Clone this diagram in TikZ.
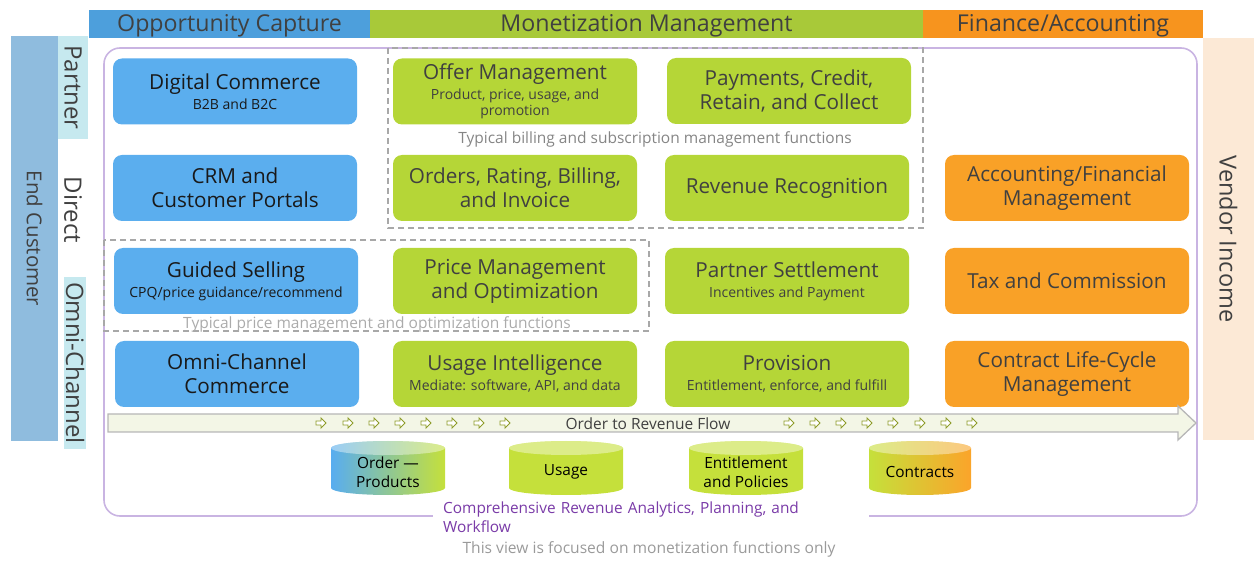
\documentclass[tikz,border=0pt]{standalone}
\usepackage{fontspec}
\setmainfont{Open Sans}
\usepackage{tikz}
\usetikzlibrary{positioning, calc}

\definecolor{capBlue}{HTML}{4D9FDC}
\definecolor{monGreen}{HTML}{A8C939}
\definecolor{finOrange}{HTML}{F7941E}
\definecolor{boxBlue}{HTML}{5BAEEE}
\definecolor{boxGreen}{HTML}{B5D637}
\definecolor{boxOrange}{HTML}{F9A127}
\definecolor{custBlue}{HTML}{8FBCDE}
\definecolor{chanCyan}{HTML}{C6E9EF}
\definecolor{vendPeach}{HTML}{FCE9D6}
\definecolor{frameLilac}{HTML}{C9B4E2}
\definecolor{dashGray}{HTML}{A8A8A8}
\definecolor{textGray}{HTML}{404040}
\definecolor{noteGray}{HTML}{858585}
\definecolor{noteLight}{HTML}{ABABAB}
\definecolor{analyticsPurple}{HTML}{7A3BA8}
\definecolor{flowFill}{HTML}{F3F6E6}
\definecolor{flowEdge}{HTML}{B7B7B7}
\definecolor{flowOlive}{HTML}{8E9C2A}
\definecolor{dbGreen}{HTML}{C5E03B}
\definecolor{dbBlue}{HTML}{58ADF0}
\definecolor{dbOrange}{HTML}{FBA42A}

\newcommand{\hdfont}{\fontsize{23.2}{26}\selectfont}
\newcommand{\ttlfont}{\fontsize{20.7}{24}\selectfont}
\newcommand{\sbfont}{\fontsize{14}{16}\selectfont}
\newcommand{\ntfont}{\fontsize{15.5}{18}\selectfont}
\newcommand{\sdfont}{\fontsize{24}{28}\selectfont}

\tikzset{
  fnbox/.style={rounded corners=9pt, minimum width=244pt, minimum height=66pt,
    align=center, inner sep=2pt, font=\ttlfont},
  bluebox/.style={fnbox, fill=boxBlue, text=black!90},
  greenbox/.style={fnbox, fill=boxGreen, text=textGray},
  orangebox/.style={fnbox, fill=boxOrange, text=textGray},
  header/.style={minimum height=28pt, inner sep=0pt, text height=18pt, text depth=3pt,
    text=textGray, font=\hdfont},
  sidebar/.style={rotate=-90, inner sep=0pt, text=textGray, font=\sdfont},
  dashbox/.style={draw=dashGray, line width=1.5pt, dash pattern=on 6pt off 4pt},
  notetext/.style={inner sep=1pt, font=\ntfont},
  dbtext/.style={align=center, inner sep=0pt, text=black, font=\fontsize{15.4}{19}\selectfont}
}

\begin{document}
\begin{tikzpicture}[x=1pt, y=-1pt]
  \useasboundingbox (0,0) rectangle (1254,561);

  % column headers
  \node[header, fill=capBlue, minimum width=281pt] (hcapture) at (229.5,24) {Opportunity Capture};
  \node[header, fill=monGreen, minimum width=553pt] (hmonetize) at (646.5,24) {Monetization Management};
  \node[header, fill=finOrange, minimum width=280pt] (hfinance) at (1063,24) {Finance/Accounting};

  % customer side and vendor side
  \node[sidebar, fill=custBlue, minimum width=405pt, minimum height=47pt, font=\fontsize{20.5}{24}\selectfont]
    (customer) at (34.5,238.5) {End Customer};
  \node[sidebar, fill=chanCyan, minimum width=103pt, minimum height=30pt] (partner) at (73,87.5) {Partner};
  \node[sidebar] (direct) at (73,210) {Direct};
  \node[sidebar, fill=chanCyan, minimum width=172pt, minimum height=22pt] (omni) at (75,363) {Omni-Channel};
  \node[sidebar, fill=vendPeach, minimum width=402pt, minimum height=51pt, font=\fontsize{23.5}{27}\selectfont]
    (vendor) at (1228.5,239) {Vendor Income};

  % outer frame
  \draw[frameLilac, line width=1.6pt, rounded corners=16pt] (104,48) rectangle (1197,516);

  % groups of typical functions
  \draw[dashbox] (388,48) rectangle (923,228);
  \draw[dashbox] (104,240) rectangle (649,331);
  \node[notetext, text=noteGray] (billingnote) at (655,139) {Typical billing and subscription management functions};
  \node[notetext, text=noteLight] (pricenote) at (377,324) {Typical price management and optimization functions};

  % row 1
  \node[bluebox] (digital) at (235,91.5) {Digital Commerce\\[-4pt]\sbfont B2B and B2C};
  \node[greenbox] (offer) at (515,91.5) {Offer Management\\[-4pt]\sbfont Product, price, usage, and\\[-8pt]\sbfont promotion};
  \node[greenbox] (payments) at (789,91) {Payments, Credit,\\Retain, and Collect};
  % row 2
  \node[bluebox] (crm) at (235,188) {CRM and\\Customer Portals};
  \node[greenbox] (orders) at (515,188) {Orders, Rating, Billing,\\and Invoice};
  \node[greenbox] (revrec) at (787,188) {Revenue Recognition};
  \node[orangebox] (accounting) at (1067,188) {Accounting/Financial\\Management};
  % row 3
  \node[bluebox] (guided) at (236,281) {Guided Selling\\[-4pt]\sbfont CPQ/price guidance/recommend};
  \node[greenbox] (pricemgmt) at (515,281) {Price Management\\and Optimization};
  \node[greenbox] (settlement) at (787,281) {Partner Settlement\\[-4pt]\sbfont Incentives and Payment};
  \node[orangebox] (tax) at (1067,281) {Tax and Commission};
  % row 4
  \node[bluebox] (omnicommerce) at (237,374) {Omni-Channel\\Commerce};
  \node[greenbox] (usage) at (515,374) {Usage Intelligence\\[-4pt]\sbfont Mediate: software, API, and data};
  \node[greenbox] (provision) at (787,374) {Provision\\[-4pt]\sbfont Entitlement, enforce, and fulfill};
  \node[orangebox] (contract) at (1067,374) {Contract Life-Cycle\\Management};

  % order to revenue flow
  \draw[draw=flowEdge, fill=flowFill, line width=1.3pt]
    (108,414) -- (1178,414) -- (1178,406) -- (1196,423) -- (1178,440) -- (1178,432) -- (108,432) -- cycle;
  \foreach \x in {321,348,374,400,426,452,479,505,789,815,841,867,893,920,946,972}
    \draw[flowOlive, fill=white, line width=0.9pt]
      (\x-5,421) -- ++(5,0) -- ++(0,-3) -- ++(5,5) -- ++(-5,5) -- ++(0,-3) -- ++(-5,0) -- cycle;
  \node[inner sep=1pt, text=textGray, font=\fontsize{15.5}{18}\selectfont] (flowlabel) at (648,424) {Order to Revenue Flow};

  % data stores
  \foreach \cx/\w/\lc/\rc/\nm/\txt in {388/57/dbBlue/dbGreen/order/{Order —\\Products},
      566/57/dbGreen/dbGreen/usage/Usage,
      746/57/dbGreen/dbGreen/entitle/{Entitlement\\and Policies},
      920/51/dbGreen/dbOrange/contracts/Contracts}{
    \path[left color=\lc, right color=\rc]
      (\cx-\w,448) -- (\cx-\w,488) arc[start angle=180, end angle=0, x radius=\w, y radius=7]
      -- (\cx+\w,448) arc[start angle=0, end angle=-180, x radius=\w, y radius=7] -- cycle;
    \fill[white, opacity=0.4] (\cx,448) ellipse[x radius=\w, y radius=7];
    \node[dbtext] (db-\nm) at (\cx,472) {\txt};
  }

  % analytics caption sits in a gap of the frame
  \node[anchor=north west, fill=white, inner xsep=10pt, inner ysep=1pt, text width=416pt,
    align=left, text=analyticsPurple, font=\fontsize{15.4}{19}\selectfont] (analytics) at (433,501)
    {Comprehensive Revenue Analytics, Planning, and\\Workflow};

  \node[notetext, text=noteLight!90!black, font=\fontsize{15.6}{18}\selectfont] (scope) at (649,549)
    {This view is focused on monetization functions only};
\end{tikzpicture}
\end{document}
